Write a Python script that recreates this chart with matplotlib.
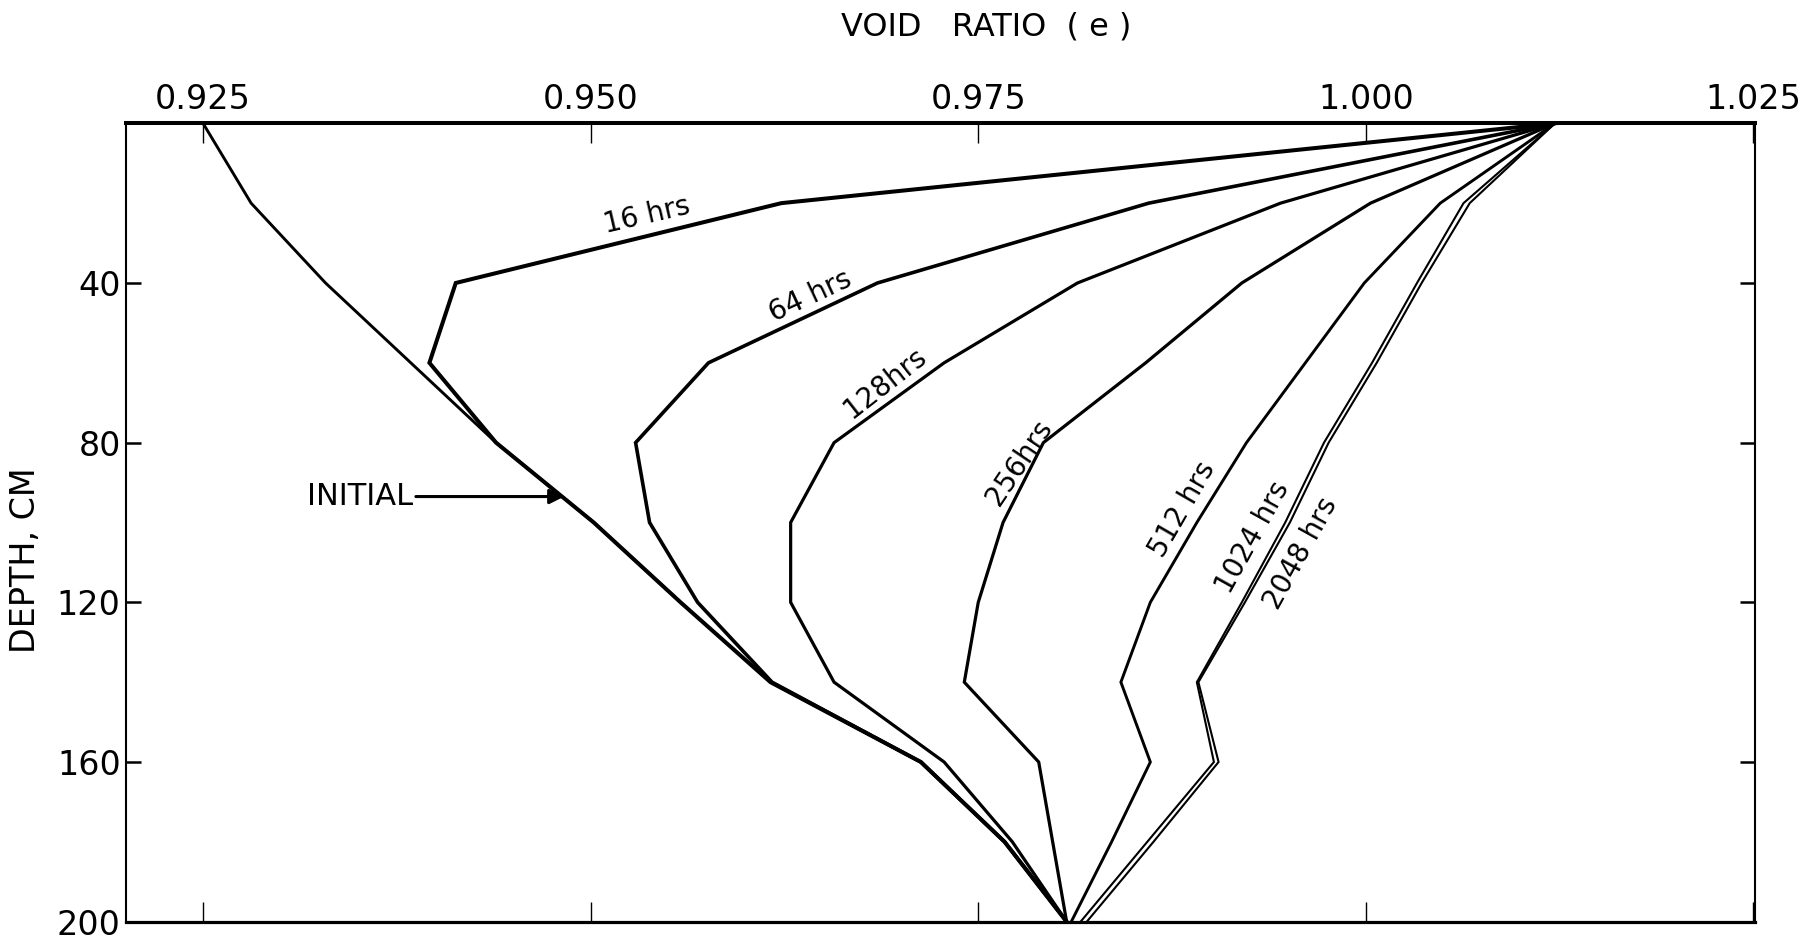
import matplotlib
matplotlib.use("Agg")
import matplotlib.pyplot as plt

# ---- data ----
depth = [0, 20, 40, 60, 80, 100, 120, 140, 160, 180, 200]

initial = [0.9250, 0.9281, 0.9329, 0.9384, 0.9439, 0.9502, 0.9558, 0.9616, 0.9713, 0.9767, 0.9807]
hrs16   = [1.0122, 0.9623, 0.9413, 0.9396, 0.9439, 0.9502, 0.9558, 0.9616, 0.9713, 0.9767, 0.9807]
hrs64   = [1.0122, 0.9860, 0.9685, 0.9576, 0.9529, 0.9538, 0.9569, 0.9617, 0.9713, 0.9767, 0.9807]
hrs128  = [1.0122, 0.9945, 0.9814, 0.9728, 0.9657, 0.9629, 0.9629, 0.9657, 0.9728, 0.9772, 0.9807]
hrs256  = [1.0122, 1.0003, 0.9920, 0.9858, 0.9792, 0.9766, 0.9750, 0.9741, 0.9789, 0.9798, 0.9807]
hrs512  = [1.0122, 1.0048, 0.9999, 0.9961, 0.9923, 0.9891, 0.9861, 0.9842, 0.9861, 0.9836, 0.9810]
hrs1024 = [1.0122, 1.0063, 1.0033, 1.0004, 0.9973, 0.9948, 0.9920, 0.9891, 0.9902, 0.9859, 0.9816]
hrs2048 = [1.0122, 1.0067, 1.0036, 1.0007, 0.9976, 0.9951, 0.9922, 0.9892, 0.9905, 0.9863, 0.9820]

series_labels = ["16 hrs", "64 hrs", "128hrs", "256hrs", "512 hrs", "1024 hrs", "2048 hrs"]
label_pos = [(0.9536, 23.0), (0.9642, 43.4), (0.9690, 65.1), (0.97765, 84.9),
             (0.9882, 96.6), (0.9927, 103.7), (0.9958, 107.7)]
label_rot = [13, 25, 38, 56, 60, 61, 61]

xtick_vals = [0.925, 0.950, 0.975, 1.000, 1.025]
xtick_labels = ["0.925", "0.950", "0.975", "1.000", "1.025"]
ytick_vals = [40, 80, 120, 160, 200]
ytick_labels = ["40", "80", "120", "160", "200"]

# ---- figure ----
fig = plt.figure(figsize=(18.03, 9.40), dpi=100)
ax = fig.add_axes([0.07005, 0.01947, 0.90333, 0.84936])

series = [hrs16, hrs64, hrs128, hrs256, hrs512, hrs1024, hrs2048]
widths = [2.9, 2.6, 2.3, 2.3, 2.1, 1.5, 1.5]
ax.plot(initial, depth, color="black", lw=2.1, solid_joinstyle="miter")
for s, w in zip(series, widths):
    ax.plot(s, depth, color="black", lw=w, solid_joinstyle="miter")

for (x, y), lab, r in zip(label_pos, series_labels, label_rot):
    ax.text(x, y, lab, rotation=r, rotation_mode="anchor", ha="center", va="center",
            fontsize=20, color="black")

ax.annotate("INITIAL", xy=(0.9483, 93.5), xytext=(0.93855, 93.5),
            ha="right", va="center", fontsize=22,
            arrowprops=dict(arrowstyle="-|>", lw=2.2, color="black",
                            mutation_scale=22, shrinkA=0, shrinkB=0))

ax.set_xlim(0.92005, 1.0251)
ax.set_ylim(200, 0)

ax.set_xticks(xtick_vals)
ax.set_xticklabels(xtick_labels)
ax.set_yticks(ytick_vals)
ax.set_yticklabels(ytick_labels)

ax.tick_params(axis="x", direction="in", top=True, bottom=True, labeltop=True,
               labelbottom=False, length=14.5, width=1.0, pad=5, labelsize=24)
ax.tick_params(axis="y", direction="in", left=True, right=True, labelleft=True,
               labelright=False, length=11, width=1.8, pad=4, labelsize=24)

ax.spines["top"].set_linewidth(2.9)
ax.spines["bottom"].set_linewidth(2.3)
ax.spines["left"].set_linewidth(1.5)
ax.spines["right"].set_linewidth(1.5)

fig.text(986 / 1803, 1 - 27 / 940, "VOID   RATIO  ( e )", ha="center", va="center",
         fontsize=23)
fig.text(26 / 1803, 1 - 560 / 940, "DEPTH, CM", rotation=90, ha="center", va="center",
         fontsize=24)

fig.savefig("out.png", dpi=100, facecolor="white")
